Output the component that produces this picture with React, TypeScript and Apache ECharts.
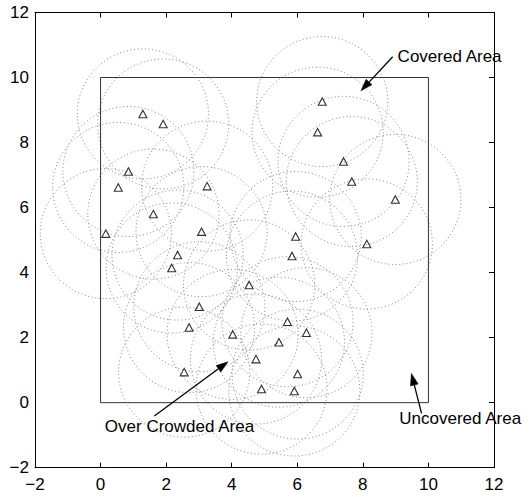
import React, { useEffect, useRef } from "react";
import * as echarts from "echarts";

// Sensor positions (triangles)
const SENSOR_X = [1.29, 1.91, 0.85, 0.54, 3.25, 1.61, 0.16, 3.08, 6.76, 6.62, 7.41, 7.66, 8.99, 5.95, 8.12, 2.35, 2.17, 3.01, 2.70, 4.03, 2.55, 5.84, 4.53, 5.70, 6.28, 5.44, 4.74, 6.01, 4.91, 5.91];
const SENSOR_Y = [8.88, 8.57, 7.11, 6.62, 6.66, 5.80, 5.20, 5.26, 9.26, 8.32, 7.42, 6.80, 6.25, 5.11, 4.88, 4.54, 4.14, 2.95, 2.31, 2.10, 0.94, 4.51, 3.62, 2.49, 2.15, 1.86, 1.34, 0.88, 0.42, 0.36];
const SENSING_RADIUS = 2;

// Field boundary (square 0..10)
const FIELD_X = [0, 10, 10, 0, 0];
const FIELD_Y = [0, 0, 10, 10, 0];

// Axis ticks
const AXIS_MIN = -2;
const AXIS_MAX = 12;
const AXIS_STEP = 2;

// Annotations: arrow start, arrow tip, text anchor (left, middle)
const NOTE_TEXT = ["Covered Area", "Over Crowded Area", "Uncovered Area"];
const NOTE_START_X = [8.91, 1.64, 9.79];
const NOTE_START_Y = [10.64, -0.41, -0.33];
const NOTE_TIP_X = [7.94, 3.89, 9.48];
const NOTE_TIP_Y = [9.59, 1.26, 0.9];
const NOTE_TEXT_X = [9.06, 0.13, 9.11];
const NOTE_TEXT_Y = [10.64, -0.72, -0.48];

const FONT = "'Liberation Sans', Arial, Helvetica, sans-serif";

export default function App() {
  const ref = useRef<HTMLDivElement>(null);
  useEffect(() => {
    if (!ref.current) return;
    const chart = echarts.init(ref.current, undefined, { renderer: "svg" });
    const sensors = SENSOR_X.map((x, i) => [x, SENSOR_Y[i]]);
    const field = FIELD_X.map((x, i) => [x, FIELD_Y[i]]);
    const notes = NOTE_TEXT.map((_, i) => [
      NOTE_START_X[i], NOTE_START_Y[i], NOTE_TIP_X[i], NOTE_TIP_Y[i], NOTE_TEXT_X[i], NOTE_TEXT_Y[i], i,
    ]);
    const fmt = (v: number) => (v < 0 ? "\u2212" + Math.abs(v) : String(v));
    const baseAxis = {
      type: "value" as const,
      min: AXIS_MIN,
      max: AXIS_MAX,
      interval: AXIS_STEP,
      splitLine: { show: false },
      axisLine: { show: true, onZero: false, lineStyle: { color: "#000", width: 1 } },
      axisTick: { show: true, inside: true, length: 5, lineStyle: { color: "#000", width: 1 } },
    };
    chart.setOption({
      animation: false,
      backgroundColor: "#fff",
      grid: { left: 35, right: 36, top: 12.5, bottom: 29.3, containLabel: false },
      xAxis: [
        {
          ...baseAxis,
          position: "bottom",
          axisLabel: { color: "#000", fontSize: 17, fontFamily: FONT, margin: 8, formatter: fmt },
        },
        { ...baseAxis, position: "top", axisLabel: { show: false } },
      ],
      yAxis: [
        {
          ...baseAxis,
          position: "left",
          axisTick: { show: false },
          axisLabel: { color: "#000", fontSize: 17, fontFamily: FONT, margin: 6, formatter: fmt },
        },
        { ...baseAxis, position: "right", axisLabel: { show: false } },
      ],
      series: [
        {
          type: "custom",
          name: "coverage",
          xAxisIndex: 0,
          yAxisIndex: 0,
          data: sensors,
          clip: false,
          renderItem: (params: any, api: any) => {
            const c = api.coord([api.value(0), api.value(1)]);
            const s = api.size([SENSING_RADIUS, SENSING_RADIUS]);
            return {
              type: "ellipse",
              shape: { cx: c[0], cy: c[1], rx: s[0], ry: s[1] },
              style: { fill: "none", stroke: "#8a8a8a", lineWidth: 1, lineDash: [1, 2.6] },
            };
          },
        },
        {
          type: "line",
          name: "field",
          xAxisIndex: 0,
          yAxisIndex: 0,
          data: field,
          symbol: "none",
          lineStyle: { color: "#333", width: 1 },
          z: 3,
        },
        {
          type: "scatter",
          name: "sensors",
          xAxisIndex: 0,
          yAxisIndex: 0,
          data: sensors,
          symbol: "triangle",
          symbolSize: [8, 7.5],
          itemStyle: { color: "rgba(255,255,255,0)", borderColor: "#000", borderWidth: 1.1 },
          z: 4,
        },
        {
          type: "custom",
          name: "notes",
          xAxisIndex: 0,
          yAxisIndex: 0,
          data: notes,
          clip: false,
          z: 5,
          renderItem: (params: any, api: any) => {
            const p1 = api.coord([api.value(0), api.value(1)]);
            const p2 = api.coord([api.value(2), api.value(3)]);
            const pt = api.coord([api.value(4), api.value(5)]);
            const idx = api.value(6);
            const dx = p2[0] - p1[0];
            const dy = p2[1] - p1[1];
            const len = Math.sqrt(dx * dx + dy * dy) || 1;
            const ux = dx / len;
            const uy = dy / len;
            const hl = 12;
            const hw = 4;
            const bx = p2[0] - ux * hl;
            const by = p2[1] - uy * hl;
            return {
              type: "group",
              children: [
                {
                  type: "line",
                  shape: { x1: p1[0], y1: p1[1], x2: bx, y2: by },
                  style: { stroke: "#000", lineWidth: 1.3 },
                },
                {
                  type: "polygon",
                  shape: {
                    points: [
                      [p2[0], p2[1]],
                      [bx - uy * hw, by + ux * hw],
                      [bx + uy * hw, by - ux * hw],
                    ],
                  },
                  style: { fill: "#000", stroke: "#000", lineWidth: 0.5 },
                },
                {
                  type: "text",
                  style: {
                    text: NOTE_TEXT[idx],
                    x: pt[0],
                    y: pt[1],
                    fill: "#000",
                    fontSize: 17,
                    fontFamily: FONT,
                    align: "left",
                    verticalAlign: "middle",
                  },
                },
              ],
            };
          },
        },
      ],
    });
    return () => chart.dispose();
  }, []);
  return (
    <div
      ref={ref}
      style={{ position: "fixed", left: 0, top: 0, width: 530, height: 497, background: "#fff" }}
    />
  );
}
